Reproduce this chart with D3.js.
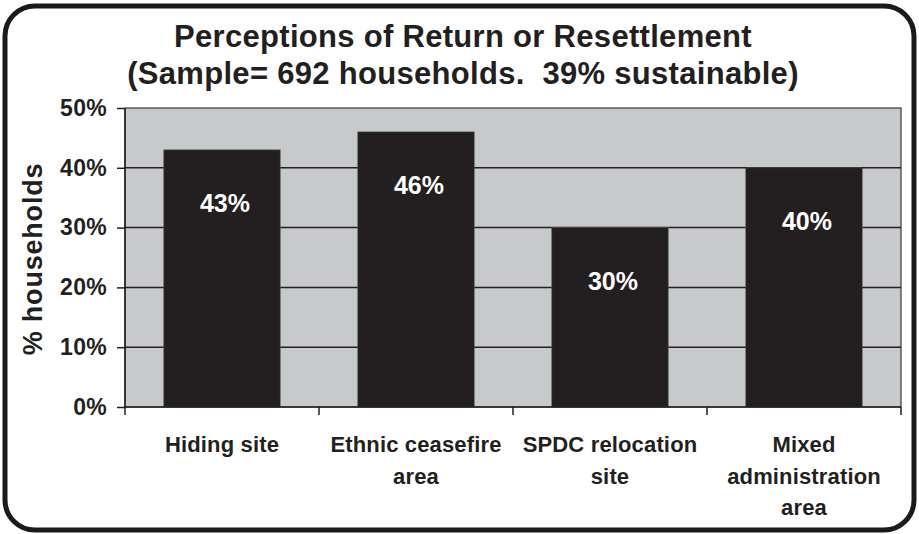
<!DOCTYPE html>
<html>
<head>
<meta charset="utf-8">
<script src="https://cdn.jsdelivr.net/npm/d3@7"></script>
<style>
  html, body { margin: 0; padding: 0; background: #ffffff; }
  svg { display: block; font-family: "Liberation Sans", Arial, Helvetica, sans-serif; font-weight: bold; }
  text { white-space: pre; }
</style>
</head>
<body>
<svg id="chart" width="919" height="534"></svg>
<script>
// Survey results: share of households rating each return / resettlement option as sustainable
const categories = ["Hiding site", "Ethnic ceasefire area", "SPDC relocation site", "Mixed administration area"];
const values = [43, 46, 30, 40];
const valueLabels = ["43%", "46%", "30%", "40%"];
const yTicks = [0, 10, 20, 30, 40, 50];
const titleLines = ["Perceptions of Return or Resettlement", "(Sample= 692 households.  39% sustainable)"];
const yTitle = "% households";

const W = 919, H = 534;
const margin = { top: 108, right: 18, bottom: 127, left: 125 };
const innerW = W - margin.left - margin.right;
const innerH = H - margin.top - margin.bottom;

const svg = d3.select("#chart");

// Outer rounded frame
svg.append("rect")
  .attr("x", 5).attr("y", 6).attr("width", 909).attr("height", 524)
  .attr("rx", 30).attr("ry", 30)
  .attr("fill", "#ffffff").attr("stroke", "#1a1a1a").attr("stroke-width", 5);

// Title
svg.append("g").selectAll("text").data(titleLines).join("text")
  .attr("x", 463)
  .attr("y", (d, i) => 47 + i * 37)
  .attr("text-anchor", "middle")
  .attr("font-size", 31)
  .attr("letter-spacing", 0.3)
  .attr("fill", "#231f20")
  .text(d => d);

const x = d3.scaleBand().domain(categories).range([0, innerW]).paddingInner(0.4).paddingOuter(0.2);
const y = d3.scaleLinear().domain([0, 50]).range([innerH, 0]);

const g = svg.append("g").attr("transform", `translate(${margin.left},${margin.top})`);

// Plot area
g.append("rect")
  .attr("width", innerW).attr("height", innerH)
  .attr("fill", "#c8c9cb").attr("stroke", "#3a3a3a").attr("stroke-width", 1.2);

// Gridlines
g.append("g").selectAll("line").data(yTicks.filter(t => t > 0 && t < 50)).join("line")
  .attr("x1", 0).attr("x2", innerW)
  .attr("y1", d => y(d)).attr("y2", d => y(d))
  .attr("stroke", "#231f20").attr("stroke-width", 1.5);

// Bars
g.append("g").selectAll("rect").data(values).join("rect")
  .attr("x", (d, i) => x(categories[i]))
  .attr("y", d => y(d))
  .attr("width", x.bandwidth())
  .attr("height", d => innerH - y(d))
  .attr("fill", "#231f20")
  .attr("stroke", "#555").attr("stroke-width", 0.6);

// Value labels inside the bars
g.append("g").selectAll("text").data(values).join("text")
  .attr("x", (d, i) => x(categories[i]) + x.bandwidth() / 2 + 3)
  .attr("y", d => y(d) + 62)
  .attr("text-anchor", "middle")
  .attr("font-size", 25)
  .attr("fill", "#ffffff")
  .text((d, i) => valueLabels[i]);

// Y axis
const yAxis = g.append("g")
  .call(d3.axisLeft(y).tickValues(yTicks).tickFormat(d => d + "%").tickSize(8).tickPadding(10));
yAxis.attr("font-family", null);
yAxis.select(".domain").attr("stroke", "#231f20").attr("stroke-width", 1.5).attr("d", `M0,0V${innerH}`);
yAxis.selectAll(".tick line").attr("stroke", "#231f20").attr("stroke-width", 1.5);
yAxis.selectAll(".tick text")
  .attr("font-size", 23).attr("letter-spacing", 0.3).attr("fill", "#231f20")
  .attr("font-weight", "bold");

// X axis: ticks at the category boundaries
const boundaries = d3.range(categories.length + 1).map(i => i * innerW / categories.length);
const xAxis = g.append("g").attr("transform", `translate(0,${innerH})`);
xAxis.append("line").attr("x1", 0).attr("x2", innerW).attr("stroke", "#231f20").attr("stroke-width", 1.5);
xAxis.selectAll("line.tk").data(boundaries).join("line").attr("class", "tk")
  .attr("x1", d => d).attr("x2", d => d).attr("y1", 0).attr("y2", 8)
  .attr("stroke", "#231f20").attr("stroke-width", 1.5);

// Category labels, wrapped to the band width
const lbl = xAxis.selectAll("text.cat").data(categories).join("text").attr("class", "cat")
  .attr("text-anchor", "middle")
  .attr("font-size", 22)
  .attr("letter-spacing", 0.15)
  .attr("fill", "#231f20");

lbl.each(function (d) {
  const t = d3.select(this);
  const cx = x(d) + x.bandwidth() / 2;
  const words = d.split(" ");
  const lines = [];
  let cur = [];
  const probe = t.append("tspan");
  words.forEach(w => {
    const test = cur.concat([w]).join(" ");
    probe.text(test);
    if (probe.node().getComputedTextLength() > 194 && cur.length) {
      lines.push(cur.join(" "));
      cur = [w];
    } else {
      cur.push(w);
    }
  });
  lines.push(cur.join(" "));
  probe.remove();
  lines.forEach((line, i) => {
    t.append("tspan").attr("x", cx).attr("y", 45 + i * 31.5).text(line);
  });
});

// Y axis title
svg.append("text")
  .attr("transform", "translate(42,259) rotate(-90)")
  .attr("text-anchor", "middle")
  .attr("font-size", 27)
  .attr("letter-spacing", 0.8)
  .attr("fill", "#231f20")
  .text(yTitle);
</script>
</body>
</html>
